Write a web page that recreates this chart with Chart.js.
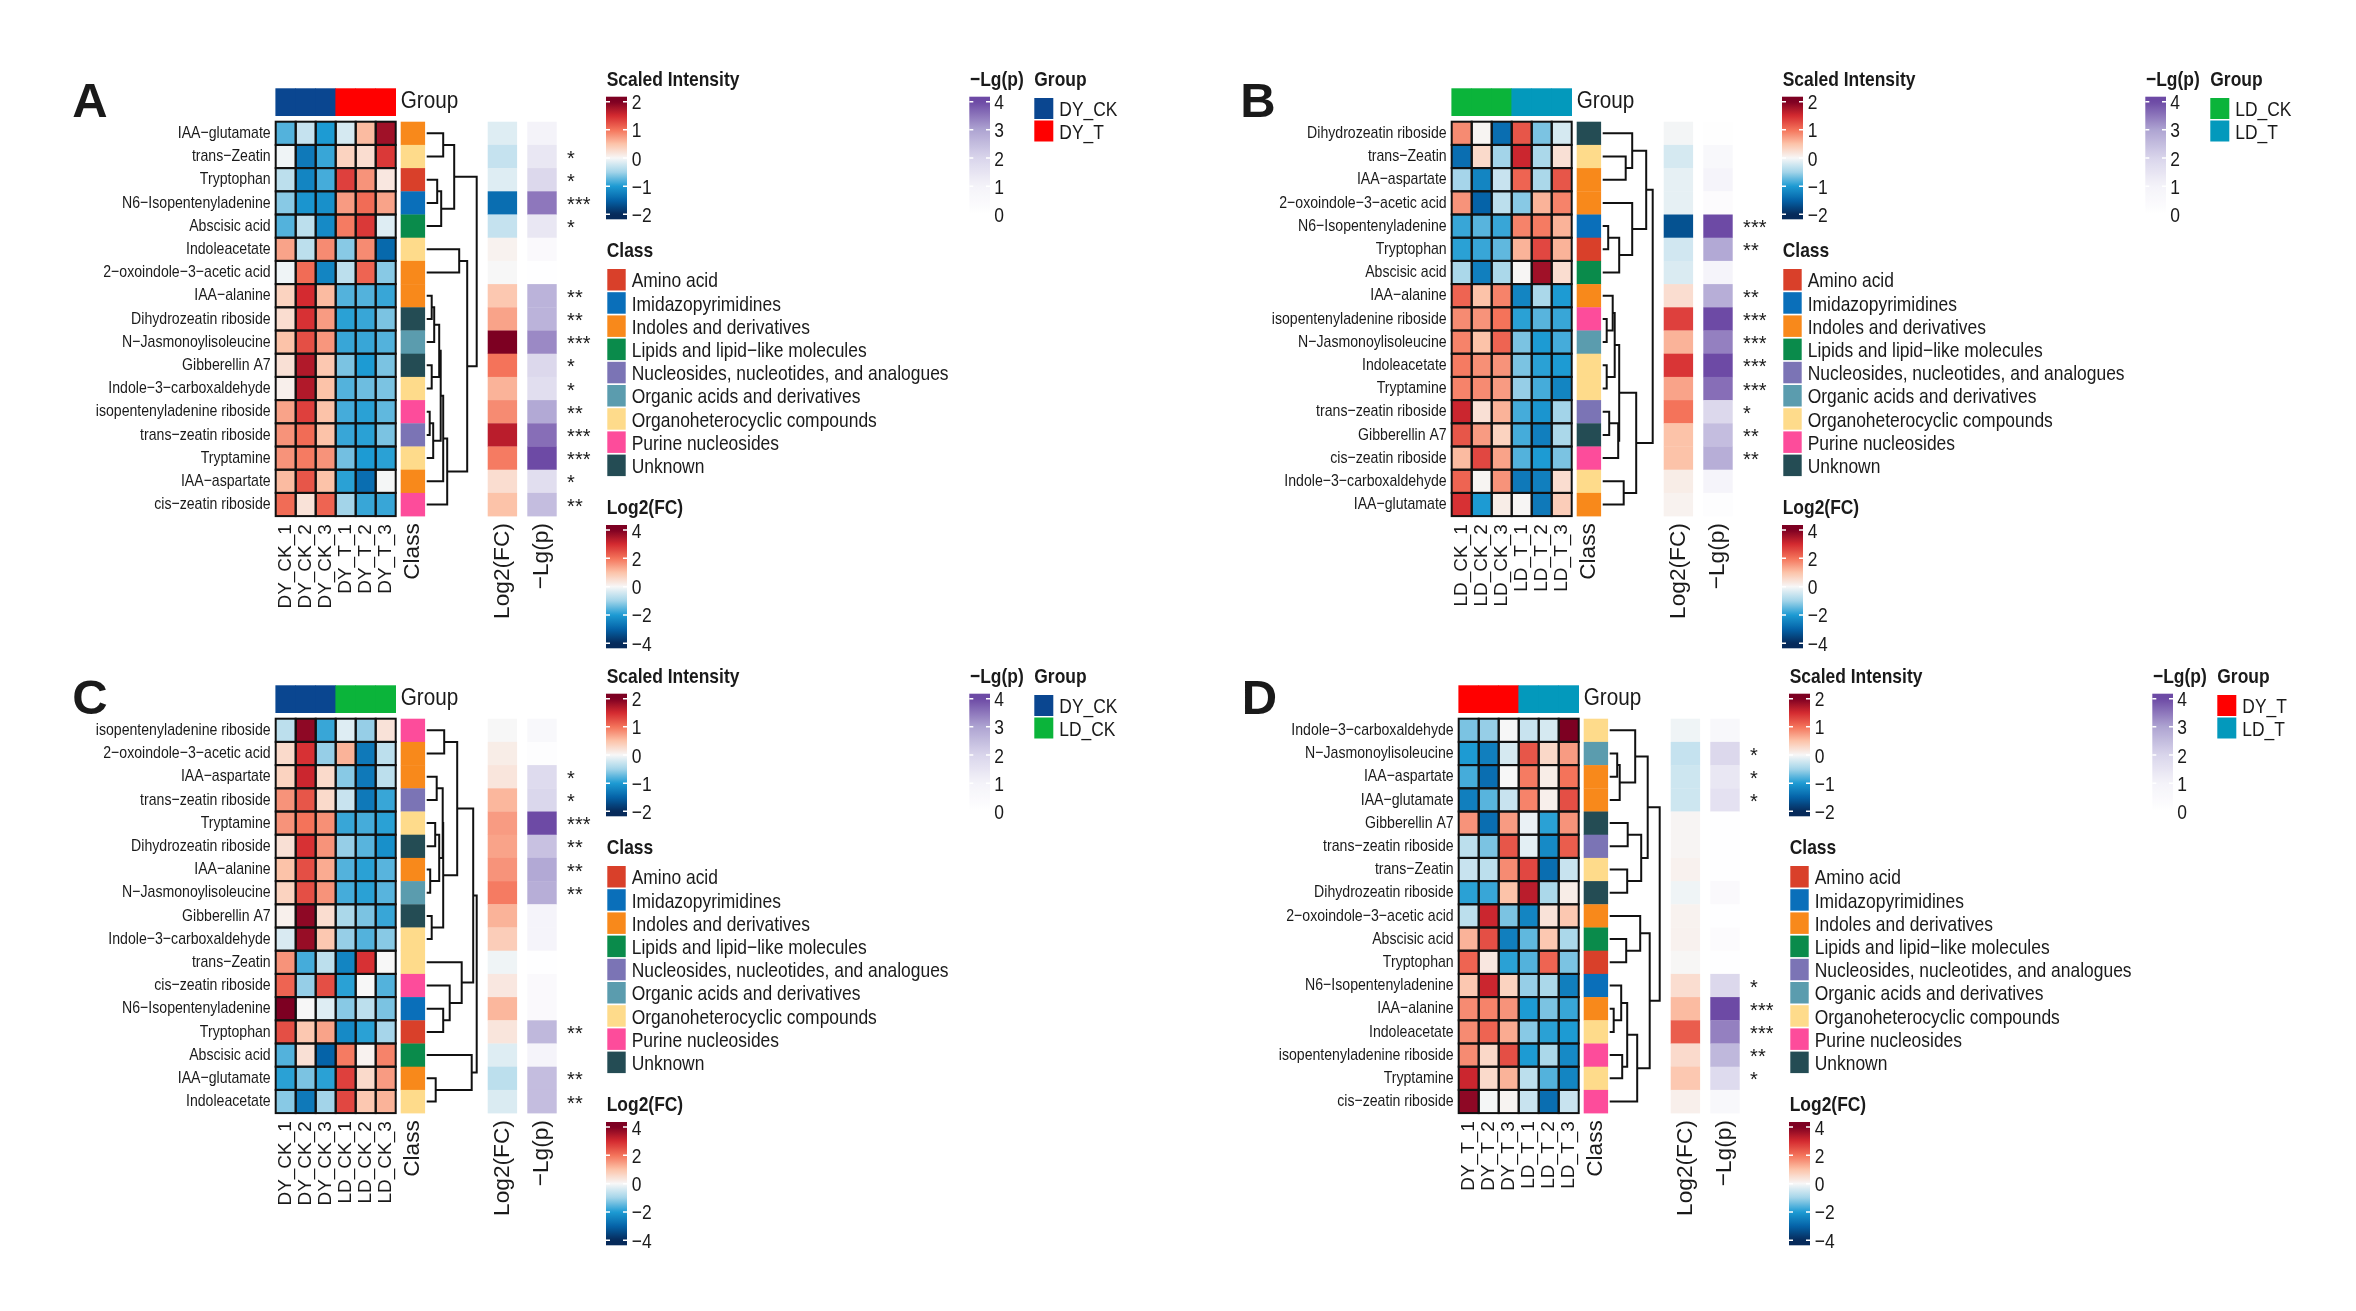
<!DOCTYPE html>
<html>
<head>
<meta charset="utf-8">
<script src="https://cdn.jsdelivr.net/npm/chart.js@4.4.1/dist/chart.umd.min.js"></script>
<style>
  html, body { margin: 0; padding: 0; background: #fff; }
  #page { position: relative; width: 2356px; height: 1311px; overflow: hidden; background: #fff; }
  #page canvas { position: absolute; }
</style>
</head>
<body>
<div id="page"></div>
<script>
// ---- shared categories ----
const classNames = ['Amino acid', 'Imidazopyrimidines', 'Indoles and derivatives', 'Lipids and lipid\u2212like molecules',
  'Nucleosides, nucleotides, and analogues', 'Organic acids and derivatives', 'Organoheterocyclic compounds',
  'Purine nucleosides', 'Unknown'];
const classOf = {
  'IAA\u2212glutamate': 2, 'trans\u2212Zeatin': 6, 'Tryptophan': 0, 'N6\u2212Isopentenyladenine': 1, 'Abscisic acid': 3,
  'Indoleacetate': 6, '2\u2212oxoindole\u22123\u2212acetic acid': 2, 'IAA\u2212alanine': 2, 'Dihydrozeatin riboside': 8,
  'N\u2212Jasmonoylisoleucine': 5, 'Gibberellin A7': 8, 'Indole\u22123\u2212carboxaldehyde': 6,
  'isopentenyladenine riboside': 7, 'trans\u2212zeatin riboside': 4, 'Tryptamine': 6, 'IAA\u2212aspartate': 2,
  'cis\u2212zeatin riboside': 7
};
const scaledTicks = [2, 1, 0, -1, -2];
const fcTicks = [4, 2, 0, -2, -4];
const lgpTicks = [4, 3, 2, 1, 0];

// ---- panel A: DY_CK vs DY_T ----
const samplesA = ['DY_CK_1', 'DY_CK_2', 'DY_CK_3', 'DY_T_1', 'DY_T_2', 'DY_T_3'];
const groupsA = ['DY_CK', 'DY_T'];
const rowsA = ['IAA\u2212glutamate', 'trans\u2212Zeatin', 'Tryptophan', 'N6\u2212Isopentenyladenine', 'Abscisic acid',
  'Indoleacetate', '2\u2212oxoindole\u22123\u2212acetic acid', 'IAA\u2212alanine', 'Dihydrozeatin riboside',
  'N\u2212Jasmonoylisoleucine', 'Gibberellin A7', 'Indole\u22123\u2212carboxaldehyde', 'isopentenyladenine riboside',
  'trans\u2212zeatin riboside', 'Tryptamine', 'IAA\u2212aspartate', 'cis\u2212zeatin riboside'];
const valuesA = [
  [-0.8, -0.3, -1.0, -0.2, 0.55, 1.8],
  [-0.05, -1.3, -0.9, 0.35, 0.25, 1.4],
  [-0.35, -1.2, -0.85, 1.35, 0.8, 0.15],
  [-0.6, -1.05, -1.1, 0.75, 1.05, 0.7],
  [-0.8, -0.35, -1.15, 0.95, 1.4, -0.15],
  [0.7, -0.35, 0.85, -0.6, 0.85, -1.45],
  [-0.05, 1.05, -1.2, -0.35, 1.1, -0.6],
  [0.35, 1.5, 0.55, -0.8, -0.8, -0.9],
  [0.25, 1.45, 0.75, -0.95, -0.9, -0.65],
  [0.5, 1.25, 0.78, -0.9, -0.9, -0.8],
  [0.22, 1.7, 0.45, -0.65, -1.0, -0.65],
  [0.08, 1.7, 0.5, -0.8, -0.7, -0.65],
  [0.7, 1.35, 0.5, -0.85, -0.95, -0.75],
  [0.8, 1.05, 0.5, -0.9, -0.95, -0.65],
  [0.8, 0.95, 0.8, -0.68, -1.0, -0.95],
  [0.55, 1.2, 0.5, -0.95, -1.4, -0.02],
  [1.05, 0.2, 1.1, -0.5, -0.9, -0.9]
];
const log2fcA = [-0.3, -0.6, -0.3, -2.8, -0.6, 0.1, 0.0, 0.9, 1.4, 4.0, 2.0, 1.2, 1.7, 3.3, 1.9, 0.5, 1.0];
const lgpA = [1.0, 1.4, 1.9, 3.5, 1.4, 0.5, 0.05, 2.7, 2.7, 3.3, 1.9, 1.7, 2.9, 3.6, 4.0, 1.7, 2.5];
const starsA = ['', '*', '*', '***', '*', '', '', '**', '**', '***', '*', '*', '**', '***', '***', '*', '**'];
// nested merges: [left, right, height]
const treeA = [[[0, 1, 0.33], [[2, 3, 0.21], 4, 0.29], 0.55],
  [[5, 6, 0.65],
   [[[[[[7, 8, 0.10], 9, 0.15], [10, 11, 0.10], 0.25], [[12, 13, 0.06], 14, 0.13], 0.28], 15, 0.33], 16, 0.41],
   0.81],
  1.0];

// ---- panel B: LD_CK vs LD_T ----
const samplesB = ['LD_CK_1', 'LD_CK_2', 'LD_CK_3', 'LD_T_1', 'LD_T_2', 'LD_T_3'];
const groupsB = ['LD_CK', 'LD_T'];
const rowsB = ['Dihydrozeatin riboside', 'trans\u2212Zeatin', 'IAA\u2212aspartate', '2\u2212oxoindole\u22123\u2212acetic acid',
  'N6\u2212Isopentenyladenine', 'Tryptophan', 'Abscisic acid', 'IAA\u2212alanine', 'isopentenyladenine riboside',
  'N\u2212Jasmonoylisoleucine', 'Indoleacetate', 'Tryptamine', 'trans\u2212zeatin riboside', 'Gibberellin A7',
  'cis\u2212zeatin riboside', 'Indole\u22123\u2212carboxaldehyde', 'IAA\u2212glutamate'];
const valuesB = [
  [0.85, 0.03, -1.4, 1.2, -0.65, -0.2],
  [-1.4, 0.28, -0.5, 1.55, -0.45, 0.22],
  [-0.48, -1.2, -0.28, 1.1, -0.45, 1.2],
  [0.8, -1.5, -0.35, -0.6, 0.6, 0.9],
  [-0.9, -0.78, -0.9, 0.9, 0.95, 0.6],
  [-0.95, -0.9, -0.75, 0.6, 1.3, 0.6],
  [-0.45, -1.25, -0.45, 0.02, 1.8, 0.25],
  [1.1, 0.5, 0.9, -1.2, -0.45, -1.0],
  [0.85, 0.8, 1.0, -0.95, -0.78, -0.9],
  [0.9, 0.5, 1.1, -0.65, -1.0, -0.85],
  [0.95, 0.82, 0.8, -0.65, -0.95, -1.0],
  [0.9, 0.85, 0.75, -0.55, -0.85, -1.2],
  [1.55, 0.22, 0.6, -0.85, -1.05, -0.5],
  [1.2, 0.75, 0.35, -0.85, -1.25, -0.45],
  [0.55, 1.3, 0.7, -0.8, -1.0, -0.65],
  [1.1, 0.03, 0.8, -1.3, -1.25, 0.25],
  [1.45, -1.0, 0.1, 0.02, -1.3, 0.4]
];
const log2fcB = [-0.05, -0.4, -0.2, -0.2, -3.3, -0.45, -0.35, 0.5, 2.7, 1.2, 2.85, 1.4, 2.0, 1.0, 1.0, 0.2, 0.1];
const lgpB = [0.1, 0.6, 0.9, 0.3, 4.0, 2.9, 0.9, 2.8, 4.0, 3.4, 4.0, 3.6, 1.9, 2.5, 2.8, 0.9, 0.2];
const starsB = ['', '', '', '', '***', '**', '', '**', '***', '***', '***', '***', '*', '**', '**', '', ''];
const treeB = [[[0, [1, 2, 0.46], 0.59], [3, [[4, 5, 0.11], 6, 0.33], 0.59], 0.87],
  [[[[7, [8, 9, 0.08], 0.2], [10, 11, 0.08], 0.24], [[12, 13, 0.13], 14, 0.31], 0.33], [15, 16, 0.42], 0.67], 1.0];

// ---- panel C: DY_CK vs LD_CK ----
const samplesC = ['DY_CK_1', 'DY_CK_2', 'DY_CK_3', 'LD_CK_1', 'LD_CK_2', 'LD_CK_3'];
const groupsC = ['DY_CK', 'LD_CK'];
const rowsC = ['isopentenyladenine riboside', '2\u2212oxoindole\u22123\u2212acetic acid', 'IAA\u2212aspartate',
  'trans\u2212zeatin riboside', 'Tryptamine', 'Dihydrozeatin riboside', 'IAA\u2212alanine', 'N\u2212Jasmonoylisoleucine',
  'Gibberellin A7', 'Indole\u22123\u2212carboxaldehyde', 'trans\u2212Zeatin', 'cis\u2212zeatin riboside',
  'N6\u2212Isopentenyladenine', 'Tryptophan', 'Abscisic acid', 'IAA\u2212glutamate', 'Indoleacetate'];
const valuesC = [
  [-0.35, 1.9, -0.9, -0.15, -0.55, 0.2],
  [0.28, 1.45, -0.55, 0.6, -1.3, -0.35],
  [0.35, 1.55, 0.28, -0.6, -1.3, -0.35],
  [0.8, 1.2, 0.28, -0.28, -1.3, -0.9],
  [0.8, 1.0, 0.82, -0.9, -0.85, -0.95],
  [0.22, 1.45, 0.8, -0.55, -0.78, -1.1],
  [0.5, 1.25, 0.65, -0.8, -0.95, -0.78],
  [0.35, 1.25, 0.8, -0.85, -0.95, -0.78],
  [0.07, 1.9, 0.25, -0.45, -0.65, -0.9],
  [-0.18, 1.85, 0.45, -0.55, -0.8, -0.6],
  [0.8, -0.85, -0.35, -1.2, 1.45, 0.0],
  [1.1, -0.55, 1.25, -0.95, 0.0, -0.8],
  [2.0, 0.0, -0.15, -0.6, -0.35, -0.65],
  [1.25, 0.45, 0.7, -1.15, -0.95, -0.48],
  [-0.8, 0.22, -1.5, 0.95, 0.05, 0.9],
  [-0.95, -0.65, -0.95, 1.35, 0.28, 0.75],
  [-0.6, -1.3, -0.5, 1.3, 0.45, 0.6]
];
const log2fcC = [0.0, 0.2, 0.35, 1.15, 1.5, 1.4, 1.6, 1.9, 1.2, 0.8, -0.1, 0.3, 1.15, 0.35, -0.3, -0.7, -0.35];
const lgpC = [0.6, 0.2, 1.8, 1.95, 4.0, 2.4, 2.9, 2.8, 0.9, 0.9, 0.05, 0.5, 0.5, 2.6, 0.9, 2.5, 2.5];
const starsC = ['', '', '*', '*', '***', '**', '**', '**', '', '', '', '', '', '**', '', '**', '**'];
const treeC = [[[[0, 1, 0.35], [[[2, 3, 0.2], [[4, 5, 0.17], [6, 7, 0.07], 0.25], 0.32], [8, 9, 0.1], 0.33], 0.61],
  [10, [11, [12, 13, 0.33], 0.46], 0.7], 0.93], [14, [15, 16, 0.18], 0.9], 1.0];

// ---- panel D: DY_T vs LD_T ----
const samplesD = ['DY_T_1', 'DY_T_2', 'DY_T_3', 'LD_T_1', 'LD_T_2', 'LD_T_3'];
const groupsD = ['DY_T', 'LD_T'];
const rowsD = ['Indole\u22123\u2212carboxaldehyde', 'N\u2212Jasmonoylisoleucine', 'IAA\u2212aspartate', 'IAA\u2212glutamate',
  'Gibberellin A7', 'trans\u2212zeatin riboside', 'trans\u2212Zeatin', 'Dihydrozeatin riboside',
  '2\u2212oxoindole\u22123\u2212acetic acid', 'Abscisic acid', 'Tryptophan', 'N6\u2212Isopentenyladenine', 'IAA\u2212alanine',
  'Indoleacetate', 'isopentenyladenine riboside', 'Tryptamine', 'cis\u2212zeatin riboside'];
const valuesD = [
  [-0.65, -0.55, 0.0, -0.28, -0.2, 2.0],
  [-1.0, -1.25, -0.2, 1.2, 0.3, 0.75],
  [-0.85, -1.4, 0.0, 0.95, 0.1, 1.0],
  [-1.25, -0.78, -0.28, 0.9, 0.08, 1.25],
  [0.8, -1.4, 0.75, -0.08, -0.95, 0.8],
  [-0.35, -0.65, 1.2, -0.12, -1.15, 1.15],
  [-0.28, -0.35, 0.85, 1.3, -1.4, -0.28],
  [-0.95, -0.9, 0.5, 1.65, -0.45, 0.1],
  [-0.35, 1.55, -0.65, -1.2, 0.2, 0.45],
  [0.6, 1.25, -1.25, -0.75, 0.45, -0.45],
  [1.1, 0.15, -0.95, -0.8, 1.1, -0.65],
  [0.45, 1.55, 0.35, -0.55, -0.45, -1.25],
  [0.85, 0.9, 0.8, -1.0, -0.65, -0.9],
  [0.85, 1.1, 0.65, -0.6, -0.95, -1.0],
  [0.85, 0.3, 1.25, -1.0, -0.45, -1.15],
  [1.55, 0.28, 0.6, -0.35, -0.8, -1.2],
  [1.9, -0.02, 0.04, -0.28, -1.4, -0.28]
];
const log2fcD = [-0.1, -0.6, -0.5, -0.5, 0.05, 0.05, 0.12, -0.1, 0.1, 0.12, 0.02, 0.5, 1.1, 2.3, 0.55, 0.9, 0.15];
const lgpD = [0.6, 1.9, 1.4, 1.6, 0.05, 0.05, 0.05, 0.5, 0.05, 0.3, 0.05, 1.9, 4.0, 3.4, 2.6, 1.8, 0.6];
const starsD = ['', '*', '*', '*', '', '', '', '', '', '', '', '*', '***', '***', '**', '*', ''];
const treeD = [[[0, [[1, 2, 0.15], 3, 0.2], 0.51], [[4, 5, 0.36], [6, 7, 0.35], 0.63], 0.76],
  [[8, [9, 10, 0.33], 0.61], [[[11, [12, 13, 0.08], 0.23], [14, 15, 0.25], 0.35], 16, 0.55], 0.8], 1.0];

// ---- styles ----
const FONT = '"Liberation Sans", Arial, Helvetica, sans-serif';
const INK = '#1a1a1a';
const classColors = ['#d9402a', '#0a6fba', '#f8891b', '#0a8b4b', '#7b74b5', '#5b9cae', '#fedb8b', '#fd4c9b', '#244c54'];
const groupColors = { DY_CK: '#0a4690', DY_T: '#ff0000', LD_CK: '#0bb43a', LD_T: '#0399bc' };

function ramp(stops) {
  const s = stops.map(([v, c]) => [v, [1, 3, 5].map(i => parseInt(c.slice(i, i + 2), 16))]);
  return v => {
    if (v <= s[0][0]) return 'rgb(' + s[0][1].join(',') + ')';
    for (let i = 1; i < s.length; i++) {
      if (v <= s[i][0]) {
        const t = (v - s[i - 1][0]) / (s[i][0] - s[i - 1][0]);
        const c = s[i - 1][1].map((a, k) => Math.round(a + t * (s[i][1][k] - a)));
        return 'rgb(' + c.join(',') + ')';
      }
    }
    return 'rgb(' + s[s.length - 1][1].join(',') + ')';
  };
}
const siColor = ramp([[-2, '#062a5a'], [-1.5, '#0563a8'], [-1, '#1d9bd3'], [-0.5, '#a3d4e9'], [0, '#f7f7f7'],
  [0.5, '#fcc3a9'], [1, '#f4735a'], [1.5, '#d42a30'], [2, '#7d0022']]);
const fcColor = ramp([[-4, '#062a5a'], [-3, '#0563a8'], [-2, '#1d9bd3'], [-1, '#a3d4e9'], [0, '#f7f7f7'],
  [1, '#fcc3a9'], [2, '#f4735a'], [3, '#d42a30'], [4, '#7d0022']]);
const lgpColor = ramp([[0, '#ffffff'], [1, '#f4f3f9'], [2, '#d9d5eb'], [3, '#aea4d2'], [4, '#6d4aa5']]);

// legend layout (pixels within a panel)
const LEG = { sx: 0.83, barX: 606, barW: 21, tickX: 631.7, boxX: 607.3, boxW: 18.4,
  lgX: 970, lgBarX: 969.3, lgBarW: 20.7, lgTickX: 994.3, grX: 1034.3, grBoxW: 19, grTextX: 1059.3 };

const panels = [
  { id: 'A', left: 0, top: 0, letterX: 90, rows: rowsA, values: valuesA, fc: log2fcA, lgp: lgpA, stars: starsA, samples: samplesA, groups: groupsA, tree: treeA },
  { id: 'B', left: 1176, top: 0, letterX: 82, rows: rowsB, values: valuesB, fc: log2fcB, lgp: lgpB, stars: starsB, samples: samplesB, groups: groupsB, tree: treeB },
  { id: 'C', left: 0, top: 597, letterX: 90, rows: rowsC, values: valuesC, fc: log2fcC, lgp: lgpC, stars: starsC, samples: samplesC, groups: groupsC, tree: treeC },
  { id: 'D', left: 1182.6, top: 597, letterX: 76.5, rows: rowsD, values: valuesD, fc: log2fcD, lgp: lgpD, stars: starsD, samples: samplesD, groups: groupsD, tree: treeD }
];

// columns beyond the heatmap, in heatmap column units
const CLASS_COL = [6.25, 7.47], FC_COL = [10.6, 12.07], LGP_COL = [12.58, 14.05];
const DENDRO_X0 = 7.55, DENDRO_W = 2.5, STAR_X = 14.57;
const W = 1174, H = 700, HM_LEFT = 275.7, HM_TOP = 121.7, CELL_W = 20, CELL_H = 23.2;

function txt(ctx, s, x, y, size, o) {
  o = o || {};
  ctx.save();
  ctx.font = (o.bold ? 'bold ' : '') + size + 'px ' + FONT;
  ctx.fillStyle = o.color || INK;
  ctx.textAlign = o.align || 'left';
  ctx.textBaseline = o.base || 'alphabetic';
  ctx.translate(x, y);
  if (o.rot) ctx.rotate(o.rot);
  ctx.scale(o.sx || 1, 1);
  ctx.fillText(s, 0, 0);
  ctx.restore();
}
const fmt = v => (v < 0 ? '\u2212' + Math.abs(v) : String(v));

function gradLegend(ctx, x, top, w, h, color, ticks, tickX, sx) {
  const vmax = ticks[0], vmin = ticks[ticks.length - 1];
  const g = ctx.createLinearGradient(0, top, 0, top + h);
  for (let i = 0; i <= 60; i++) {
    const yy = top + (i / 60) * h;
    const v = Math.max(vmin, Math.min(vmax, vmax - (yy - top - 5) / (h - 10) * (vmax - vmin)));
    g.addColorStop(i / 60, color(v));
  }
  ctx.fillStyle = g;
  ctx.fillRect(x, top, w, h);
  ctx.strokeStyle = '#ffffff';
  ctx.lineWidth = 1.5;
  ticks.forEach(t => {
    const ty = top + 5 + (vmax - t) / (vmax - vmin) * (h - 10);
    ctx.beginPath();
    ctx.moveTo(x, ty); ctx.lineTo(x + 4, ty);
    ctx.moveTo(x + w - 4, ty); ctx.lineTo(x + w, ty);
    ctx.stroke();
    txt(ctx, fmt(t), tickX, ty + 7.5, 21, { sx: sx });
  });
}

function panelPlugin(p) {
  return {
    id: 'heat' + p.id,
    afterDatasetsDraw(chart) {
      const ctx = chart.ctx, xs = chart.scales.x, ys = chart.scales.y;
      const X = v => xs.getPixelForValue(v), Y = v => ys.getPixelForValue(v);
      const L = LEG, ds = chart.data.datasets;
      ctx.save();

      // heatmap cells
      ds[0].data.forEach(d => {
        ctx.fillStyle = siColor(d.v);
        ctx.fillRect(X(d.x - 0.5), Y(d.y - 0.5), X(d.x + 0.5) - X(d.x - 0.5), Y(d.y + 0.5) - Y(d.y - 0.5));
      });
      ctx.strokeStyle = '#111';
      ctx.lineWidth = 2;
      ds[0].data.forEach(d => {
        ctx.strokeRect(X(d.x - 0.5), Y(d.y - 0.5), X(d.x + 0.5) - X(d.x - 0.5), Y(d.y + 0.5) - Y(d.y - 0.5));
      });

      // annotation columns
      const band = (data, col, colorFn) => data.forEach(d => {
        ctx.fillStyle = colorFn(d.v);
        ctx.fillRect(X(col[0]), Y(d.y - 0.5), X(col[1]) - X(col[0]), Y(d.y + 0.5) - Y(d.y - 0.5) + 0.3);
      });
      band(ds[1].data, CLASS_COL, v => classColors[v]);
      band(ds[2].data, FC_COL, fcColor);
      band(ds[3].data, LGP_COL, lgpColor);

      // group bar
      p.samples.forEach((s, c) => {
        ctx.fillStyle = groupColors[s.replace(/_\d+$/, '')];
        ctx.fillRect(X(c) - 0.3, Y(-1.44), X(c + 1) - X(c) + 0.6, Y(-0.246) - Y(-1.44));
      });
      txt(ctx, 'Group', X(CLASS_COL[0]), Y(-0.843), 23, { base: 'middle', sx: 0.9 });

      // stars
      p.stars.forEach((s, r) => { if (s) txt(ctx, s, X(STAR_X), Y(r + 0.5) + 8, 20); });

      // dendrogram
      ctx.strokeStyle = '#111';
      ctx.lineWidth = 2;
      const DX = h => X(DENDRO_X0 + h * DENDRO_W);
      const tree = node => {
        if (typeof node === 'number') return { y: node + 0.5, h: 0 };
        const a = tree(node[0]), b = tree(node[1]), h = node[2];
        ctx.beginPath();
        ctx.moveTo(DX(a.h), Y(a.y)); ctx.lineTo(DX(h), Y(a.y));
        ctx.lineTo(DX(h), Y(b.y)); ctx.lineTo(DX(b.h), Y(b.y));
        ctx.stroke();
        return { y: (a.y + b.y) / 2, h: h };
      };
      tree(p.tree);

      // row labels
      p.rows.forEach((name, r) => txt(ctx, name, X(0) - 5, Y(r + 0.5), 17, { align: 'right', base: 'middle', sx: 0.83 }));

      // column labels (rotated)
      const colTop = Y(p.rows.length) + 8;
      p.samples.forEach((s, c) => txt(ctx, s, X(c + 0.5), colTop, 19, { align: 'right', base: 'middle', rot: -Math.PI / 2 }));
      [['Class', CLASS_COL], ['Log2(FC)', FC_COL], ['\u2212Lg(p)', LGP_COL]].forEach(([s, col]) =>
        txt(ctx, s, X((col[0] + col[1]) / 2), colTop - 1, 22.7, { align: 'right', base: 'middle', rot: -Math.PI / 2 }));

      // panel letter
      txt(ctx, p.id, p.letterX, 116.7, 49, { bold: true, align: 'center' });

      // legends: Scaled Intensity
      txt(ctx, 'Scaled Intensity', L.barX + 0.7, 86, 21, { bold: true, sx: L.sx });
      gradLegend(ctx, L.barX, 96.7, L.barW, 122.6, siColor, scaledTicks, L.tickX, L.sx);
      // Class
      txt(ctx, 'Class', L.barX + 0.7, 256.7, 21, { bold: true, sx: L.sx });
      classNames.forEach((n, i) => {
        const by = 269 + i * 23.2;
        ctx.fillStyle = classColors[i];
        ctx.fillRect(L.boxX, by, L.boxW, 21.5);
        txt(ctx, n, L.tickX, by + 18.3, 21, { sx: L.sx });
      });
      // Log2(FC)
      txt(ctx, 'Log2(FC)', L.barX + 0.7, 514.3, 21, { bold: true, sx: L.sx });
      gradLegend(ctx, L.barX, 525, L.barW, 123.3, fcColor, fcTicks, L.tickX, L.sx);
      // -Lg(p)
      txt(ctx, '\u2212Lg(p)', L.lgX, 86, 21, { bold: true, sx: L.sx });
      gradLegend(ctx, L.lgBarX, 96.7, L.lgBarW, 122.6, lgpColor, lgpTicks, L.lgTickX, L.sx);
      // Group
      txt(ctx, 'Group', L.grX, 86, 21, { bold: true, sx: L.sx });
      p.groups.forEach((g, i) => {
        const by = 98 + i * 22.5;
        ctx.fillStyle = groupColors[g];
        ctx.fillRect(L.grX, by, L.grBoxW, 21);
        txt(ctx, g, L.grTextX, by + 18, 21, { sx: L.sx });
      });
      ctx.restore();
    }
  };
}

const page = document.getElementById('page');
panels.forEach(p => {
  const cv = document.createElement('canvas');
  cv.width = W; cv.height = H;
  cv.style.left = p.left + 'px'; cv.style.top = p.top + 'px';
  cv.style.width = W + 'px'; cv.style.height = H + 'px';
  page.appendChild(cv);
  const n = p.rows.length;
  const cells = [];
  p.values.forEach((row, r) => row.forEach((v, c) => cells.push({ x: c + 0.5, y: r + 0.5, v: v })));
  const col = (arr, cx) => arr.map((v, r) => ({ x: cx, y: r + 0.5, v: v }));
  new Chart(cv, {
    type: 'scatter',
    data: {
      datasets: [
        { label: 'Scaled Intensity', data: cells, pointRadius: 0 },
        { label: 'Class', data: col(p.rows.map(r => classOf[r]), (CLASS_COL[0] + CLASS_COL[1]) / 2), pointRadius: 0 },
        { label: 'Log2(FC)', data: col(p.fc, (FC_COL[0] + FC_COL[1]) / 2), pointRadius: 0 },
        { label: '-Lg(p)', data: col(p.lgp, (LGP_COL[0] + LGP_COL[1]) / 2), pointRadius: 0 }
      ]
    },
    options: {
      responsive: false,
      animation: false,
      events: [],
      layout: { padding: { left: HM_LEFT, top: HM_TOP, right: W - HM_LEFT - 6 * CELL_W, bottom: H - HM_TOP - n * CELL_H } },
      plugins: { legend: { display: false }, tooltip: { enabled: false } },
      scales: {
        x: { type: 'linear', min: 0, max: 6, display: false },
        y: { type: 'linear', min: 0, max: n, reverse: true, display: false }
      }
    },
    plugins: [panelPlugin(p)]
  });
});
</script>
</body>
</html>
